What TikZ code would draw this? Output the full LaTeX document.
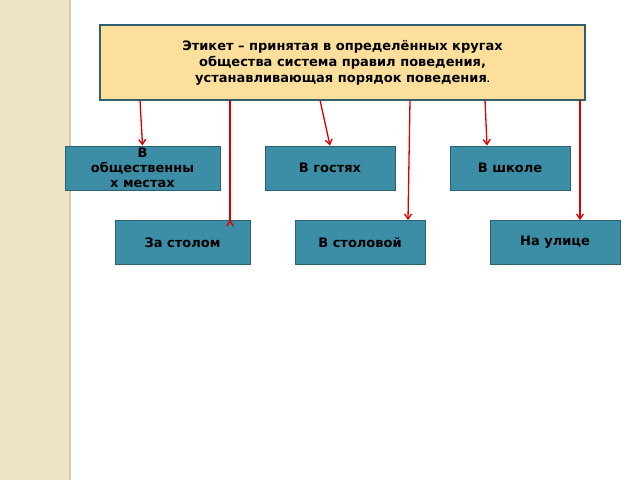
\documentclass[tikz,border=0pt]{standalone}
\usepackage{fontspec}
\setmainfont{DejaVu Sans}
\usetikzlibrary{arrows.meta}
\definecolor{beige}{HTML}{EFE3C6}
\definecolor{topfill}{HTML}{FDDF9C}
\definecolor{teal}{HTML}{3B8EA5}
\definecolor{bord}{HTML}{2F6070}
\begin{document}
\begin{tikzpicture}[x=1pt,y=-1pt,
  topbox/.style={draw=bord,line width=1.2pt,fill=topfill,minimum width=485pt,minimum height=75pt,align=center,font=\bfseries\fontsize{13}{16}\selectfont,inner sep=2pt},
  tbox/.style={draw=bord,line width=1pt,fill=teal,minimum height=44pt,align=center,font=\bfseries\fontsize{13}{15}\selectfont,inner sep=1pt},
  arr/.style={draw=red!85!black,line width=1.3pt,-{Straight Barb[length=5pt,width=7pt]}}]
\useasboundingbox (0,0) rectangle (640,480);
\fill[beige] (0,0) rectangle (70,480);
\draw[beige!70!brown,line width=1.5pt] (70,0) -- (70,480);
\node[topbox] (top) at (342.5,62.5) {Этикет – принятая в определённых кругах\\общества система правил поведения,\\устанавливающая порядок поведения{\fontsize{8}{8}\selectfont.}};
\node[tbox,minimum width=155pt] (a) at (142.5,168) {В\\общественны\\х местах};
\node[tbox,minimum width=130pt] (b) at (330,168) {В гостях};
\node[tbox,minimum width=120pt] (c) at (510,168) {В школе};
\node[tbox,minimum width=135pt] (d) at (182.5,242.5) {За столом};
\node[tbox,minimum width=130pt] (e) at (360,242.5) {В столовой};
\node[tbox,minimum width=130pt] (f) at (555,242.5) {На улице};
\draw[arr] (140,100) -- (a.north);
\draw[arr] (230,100) -- (230,220.5) -- (d.north -| 230,0);
\draw[arr] (320,100) -- (b.north);
\draw[arr] (410,100) -- (e.north -| 408,0);
\draw[arr] (485,100) -- (c.north -| 487,0);
\draw[arr] (580,100) -- (f.north -| 580,0);
\end{tikzpicture}
\end{document}
